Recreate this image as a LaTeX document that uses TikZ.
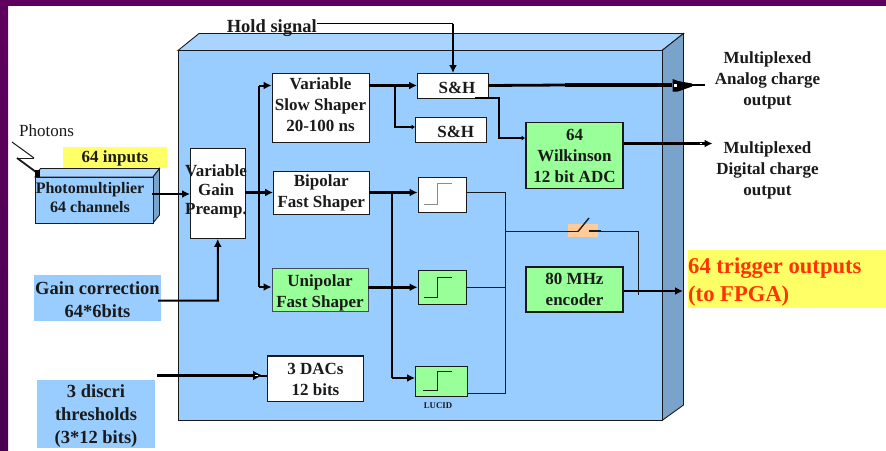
\documentclass[tikz,border=0pt]{standalone}
\usepackage{fontspec}
\setmainfont{Liberation Serif}
\usetikzlibrary{arrows.meta}
\definecolor{frame}{HTML}{5F005F}
\definecolor{framedark}{HTML}{4A0050}
\definecolor{chip}{HTML}{99CCFF}
\definecolor{chiptop}{HTML}{A8D4FF}
\definecolor{chipside}{HTML}{7AA3CC}
\definecolor{lgreen}{HTML}{99FF99}
\definecolor{lyellow}{HTML}{FFFF66}
\definecolor{lorange}{HTML}{FFCC99}
\definecolor{trig}{HTML}{FF3300}
\definecolor{ink}{HTML}{1A1A1A}
\tikzset{
 x=1pt,y=-1pt,
 lbl/.style={font=\bfseries\fontsize{17}{21}\selectfont,align=center,text=ink,inner sep=0pt},
 biglbl/.style={lbl,font=\bfseries\fontsize{18.5}{23}\selectfont},
 bx/.style={draw=ink,line width=.9pt,fill=white,lbl,minimum width=#1},
 gbx/.style={bx=#1,fill=lgreen},
 heavy/.style={draw=black,line width=2.8pt},
 wire/.style={draw=black,line width=2pt},
 thin wire/.style={draw=ink,line width=.9pt},
 tip/.style={-{Latex[length=8pt,width=8pt]}},
 smalltip/.style={-{Latex[length=3.5pt,width=5pt]}},
 face/.style={draw=ink,line width=.9pt}
}
\begin{document}
\begin{tikzpicture}
\useasboundingbox (0,0) rectangle (886,450);
\fill[white] (0,0) rectangle (886,450);
\fill[frame] (0,0) rectangle (886,6);
\shade[top color=frame,bottom color=framedark] (0,0) rectangle (8,450);
% chip block
\coordinate (fa) at (178,50.5);
\coordinate (fb) at (662,50.5);
\coordinate (fc) at (662,420.5);
\coordinate (fd) at (178,420.5);
\coordinate (ba) at (199,33.5);
\coordinate (bb) at (683.5,33.5);
\coordinate (bc) at (683.5,405);
\filldraw[face,fill=chiptop] (fa)--(ba)--(bb)--(fb)--cycle;
\filldraw[face,fill=chipside] (fb)--(bb)--(bc)--(fc)--cycle;
\filldraw[face,fill=chip] (fa)--(fb)--(fc)--(fd)--cycle;
% labelled patches
\node[fill=lyellow,minimum width=104pt,minimum height=21pt] (inputs) at (115,157.5) {};
\node[lbl] (inputst) at (115,158.5) {64 inputs};
\node[fill=chip,minimum width=126.5pt,minimum height=46.5pt] (gain) at (97.5,298) {};
\node[biglbl] (gaint) at (97.5,300) {Gain correction\\64*6bits};
\node[fill=chip,minimum width=118pt,minimum height=68.5pt] (thresh) at (96,414) {};
\node[biglbl] (thresht) at (96,416.5) {3 discri\\thresholds\\(3*12 bits)};
\node[fill=lyellow,minimum width=198.5pt,minimum height=58pt,inner sep=0pt] (trigger) at (786.75,279) {};
\node[anchor=west,inner sep=0pt,font=\bfseries\fontsize{22.6}{28}\selectfont,text=trig,align=left] (triggert) at (688,282.5) {64 trigger outputs\\(to FPGA)};
% photomultiplier
\filldraw[face,fill=chiptop] (35,177)--(40.5,168.5)--(159.5,168.5)--(153,177)--cycle;
\filldraw[face,fill=chipside] (153,177)--(159.5,168.5)--(159.5,215)--(153,223)--cycle;
\node[draw=ink,line width=.9pt,fill=chip,minimum width=118pt,minimum height=46pt,inner sep=0pt] (pm) at (94,200) {};
\node[lbl,font=\bfseries\fontsize{16}{19}\selectfont] (pmt) at (90,197.5) {Photomultiplier\\64 channels};
\node[font=\fontsize{17}{20}\selectfont,text=ink,inner sep=0pt] (photons) at (46.5,131) {Photons};
\draw[line width=1pt,draw=ink] (12,142)--(34,158);
\draw[line width=1pt,draw=ink] (34,158)--(17,158);
\draw[line width=1.8pt,draw=ink] (17,158)--(36,172);
\fill[black] (35,170) rectangle (40,177);
% blocks
\node[bx=54.5pt,minimum height=90.5pt] (pre) at (217.75,193.25) {};
\node[lbl,font=\bfseries\fontsize{17}{19}\selectfont] (pret) at (216,191.5) {Variable\\Gain\\Preamp.};
\node[bx=97pt,minimum height=69pt] (slow) at (320.5,107.5) {};
\node[lbl] (slowt) at (320.5,104.5) {Variable\\Slow Shaper\\20-100 ns};
\node[bx=95.5pt,minimum height=42.5pt] (bip) at (321.25,192.75) {Bipolar\\Fast Shaper};
\node[gbx=96pt,minimum height=42.5pt,draw=ink!70!chip] (uni) at (320,289.75) {};
\node[lbl] (unit) at (320,292.5) {Unipolar\\Fast Shaper};
\node[bx=96pt,minimum height=45.5pt,line width=1.5pt] (dac) at (315.5,378.75) {};
\node[lbl] (dact) at (315.5,379.5) {3 DACs\\12 bits};
\node[bx=71pt,minimum height=25pt] (sh1) at (453,85.5) {};
\node[lbl] (sh1t) at (457,87.5) {S\&H};
\node[bx=70.5pt,minimum height=24.5pt] (sh2) at (450.75,129.75) {};
\node[lbl] (sh2t) at (455.75,131.5) {S\&H};
\node[gbx=97pt,minimum height=66pt,line width=1.7pt] (adc) at (574.5,155.5) {64\\Wilkinson\\12 bit ADC};
\node[gbx=97pt,minimum height=45pt,line width=1.7pt] (enc) at (574.5,289.5) {80 MHz\\encoder};
\node[bx=48pt,minimum height=34.5pt] (cmpa) at (442,194.75) {};
\node[gbx=48pt,minimum height=33.5pt] (cmpb) at (442,287.25) {};
\node[gbx=51.5pt,minimum height=30.5pt] (cmpc) at (441.25,381.25) {};
\node[font=\bfseries\fontsize{8.8}{10}\selectfont,text=ink,inner sep=0pt] (lucid) at (438,405.5) {LUCID};
\draw[line width=.9pt,draw=black!45] (424,204)--(437.5,204)--(437.5,183)--(452,183);
\draw[line width=.9pt,draw=ink] (424,297)--(437.5,297)--(437.5,277)--(452,277);
\draw[line width=.9pt,draw=ink] (423,390)--(437,390)--(437,371)--(452,371);
% output text
\node[lbl] (analog) at (767.5,80) {Multiplexed\\Analog charge\\output};
\node[lbl] (digital) at (767.5,170.5) {Multiplexed\\Digital charge\\output};
\node[biglbl,anchor=east] (hold) at (317,28) {Hold signal};
% switch
\node[fill=lorange,minimum width=29.5pt,minimum height=13.5pt,inner sep=0pt] (sw) at (583,230.25) {};
% connectors
\coordinate (pmout) at (152,194);
\draw[wire,tip] (pmout)--(pre.west|-pmout);
\coordinate (j1) at (259,192.5);
\draw[heavy,tip] (pre.east|-j1)--(bip.west|-j1);
\draw[wire] (259,85.5)--(259,287);
\draw[wire,tip] (259,85.5)--(slow.west|-0,85.5);
\draw[wire,tip] (259,287)--(uni.west|-0,287);
\draw[wire,tip] (158,300.5)--(218,300.5)--(pre.south);
\draw[heavy,line width=3.4pt,-{Latex[length=10pt,width=10pt]}] (157,375.5)--(263,375.5);
\draw[wire] (260,375.5)--(dac.west|-0,375.5);
\fill[white] (254.5,374.6) rectangle (257.5,376.4);
\draw[line width=1.6pt,draw=black] (453,23.5)--(hold.east|-0,23.5);
\draw[line width=1.6pt,draw=black,tip] (453,23.5)--(453,73);
\draw[heavy,tip] (slow.east|-sh1)--(sh1.west);
\coordinate (j2) at (394.5,85.5);
\draw[wire,smalltip] (j2)--(394.5,127)--(sh2.west|-0,127);
\draw[line width=2.8pt,draw=black] (sh1.east)--(565,85);
\draw[line width=3.8pt,draw=black] (565,85)--(672,85);
\fill[black] (672.5,79)--(678,81)--(692,83.5)--(692,86.5)--(678,91.5)--(672.5,91.5)--cycle;
\draw[wire] (690,85)--(705,85);
\fill[white] (674,83.5) rectangle (677,87);
\draw[wire,smalltip] (475,98)--(499,98)--(499,138)--(adc.west|-0,138);
\draw[wire,line width=2.4pt,tip] (adc.east|-0,143.5)--(712.5,143.5);
\fill[white] (699.5,142.7) rectangle (702,144.3);
\coordinate (cmpain) at (cmpa.west|-0,192.5);
\coordinate (cmpaout) at (cmpa.east|-0,192.5);
\draw[heavy,tip] (bip.east|-0,192.5)--(cmpain);
\draw[heavy,tip] (uni.east|-cmpb)--(cmpb.west);
\draw[wire] (392,192.5)--(392,378);
\draw[wire,tip] (392,378)--(cmpc.west|-0,378);
\draw[thin wire] (cmpaout)--(505,192.5)--(505,393)--(cmpc.east|-0,393);
\draw[thin wire] (cmpb.east)--(505,287.25);
\draw[thin wire] (505,231.5)--(578,231.5);
\draw[line width=1.4pt,draw=ink] (578,231.5)--(589,218);
\draw[line width=1.1pt,draw=ink] (589,231)--(601,231);
\draw[thin wire] (601,231)--(638,231)--(638,295);
\draw[heavy,tip] (enc.east|-0,291)--(683,291);
\end{tikzpicture}
\end{document}
